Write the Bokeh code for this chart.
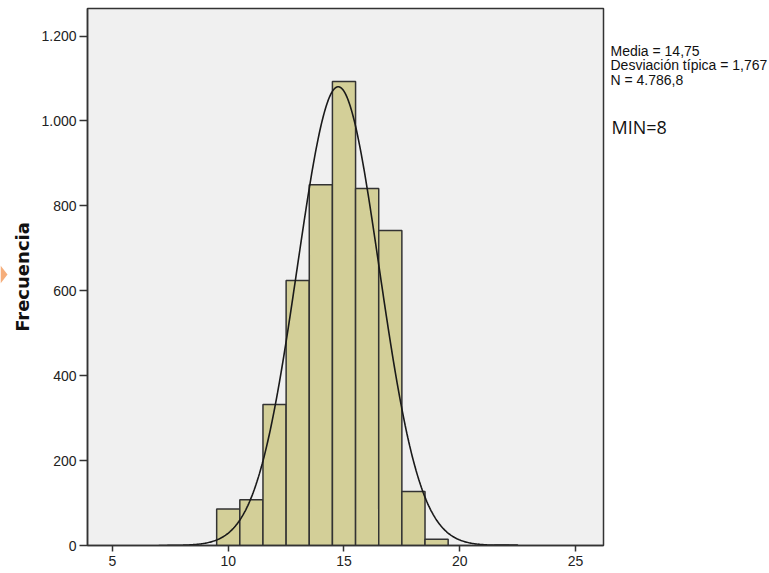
import numpy as np
from bokeh.plotting import figure
from bokeh.layouts import row
from bokeh.models import FixedTicker, ColumnDataSource, Range1d
from bokeh.core.properties import value
from bokeh.embed import file_html
from bokeh.resources import INLINE

# ---- data ----
bin_centers = [10, 11, 12, 13, 14, 15, 16, 17, 18, 19, 22]
frequencies = [86, 108, 332, 624, 850, 1093, 841, 742, 127, 15, 1]
bin_width = 1.0

mean = 14.75
std_dev = 1.767
n_total = 4786.8
curve_from, curve_to = 7.0, 22.5

x_ticks = [5, 10, 15, 20, 25]
y_ticks = [0, 200, 400, 600, 800, 1000, 1200]
y_tick_labels = ["0", "200", "400", "600", "800", "1.000", "1.200"]

stats_lines = ["Media = 14,75", "Desviación típica = 1,767", "N = 4.786,8"]
note_text = "MIN=8"
y_title = "Frecuencia"

H = 573
TOP, BOTTOM = 8, 28   # borders shared by the aligned frames

# ---- small left strip with the orange marker ----
p0 = figure(width=8, height=H, output_backend="svg", toolbar_location=None,
            x_range=Range1d(0, 8), y_range=Range1d(H - BOTTOM, TOP),
            x_axis_location=None, y_axis_location=None,
            min_border_left=0, min_border_right=0,
            min_border_top=TOP, min_border_bottom=BOTTOM)
p0.outline_line_color = None
p0.grid.visible = False
p0.background_fill_color = "white"
p0.patch(x=[0, 7, 0], y=[265, 274, 283], fill_color="#f5ad7a", line_color=None)

# ---- main histogram ----
p = figure(width=597, height=H, output_backend="svg", toolbar_location=None,
           x_range=(3.92, 26.21), y_range=(0, 1265),
           min_border_left=79, min_border_right=2, min_border_top=TOP,
           min_border_bottom=BOTTOM)
p.background_fill_color = "#f0f0f0"
p.border_fill_color = "white"
p.outline_line_color = "#333333"
p.outline_line_width = 1.5
p.xgrid.visible = False
p.ygrid.visible = False

src = ColumnDataSource(dict(x=bin_centers, top=frequencies))
p.vbar(x="x", top="top", bottom=0, width=bin_width, source=src,
       fill_color="#d3cf98", line_color="#333333", line_width=1.5)

xs = np.linspace(curve_from, curve_to, 400)
ys = n_total * bin_width / (std_dev * np.sqrt(2 * np.pi)) * np.exp(-0.5 * ((xs - mean) / std_dev) ** 2)
p.line(xs, ys, line_color="#1a1a1a", line_width=1.6)

for ax in (p.xaxis[0], p.yaxis[0]):
    ax.axis_line_color = "#333333"
    ax.axis_line_width = 1.5
    ax.major_tick_line_color = "#333333"
    ax.major_tick_line_width = 1.5
    ax.major_tick_in = 0
    ax.minor_tick_line_color = None
    ax.major_label_text_font = "Liberation Sans"
    ax.major_label_text_font_size = "14px"
    ax.major_label_text_color = "#222222"

p.xaxis.ticker = FixedTicker(ticks=x_ticks)
p.xaxis.major_tick_out = 6
p.xaxis.major_label_standoff = 4

p.yaxis.ticker = FixedTicker(ticks=y_ticks)
p.yaxis.major_label_overrides = {t: l for t, l in zip(y_ticks, y_tick_labels)}
p.yaxis.major_tick_out = 8
p.yaxis.major_label_standoff = 3
p.yaxis.axis_label = y_title
p.yaxis.axis_label_text_font = "DejaVu Sans"
p.yaxis.axis_label_text_font_style = "bold"
p.yaxis.axis_label_text_font_size = "18px"
p.yaxis.axis_label_text_color = "#111111"
p.yaxis.axis_label_standoff = 5

# ---- right strip with the statistics text ----
x0 = 605
p2 = figure(width=769 - x0, height=H, output_backend="svg", toolbar_location=None,
            x_range=Range1d(x0, 769), y_range=Range1d(H - BOTTOM, TOP),
            x_axis_location=None, y_axis_location=None,
            min_border_left=0, min_border_right=0,
            min_border_top=TOP, min_border_bottom=BOTTOM)
p2.outline_line_color = None
p2.grid.visible = False
p2.background_fill_color = "white"
p2.text(x=[610] * len(stats_lines), y=[50, 64.5, 79], text=stats_lines,
        text_font=value("Liberation Sans"), text_font_size=value("14px"),
        text_color="#111111", text_baseline="middle", text_align="left")
p2.text(x=[611], y=[126], text=[note_text],
        text_font=value("Open Sans"), text_font_size=value("18px"),
        text_color="#111111", text_baseline="middle", text_align="left")

layout = row(p0, p, p2, spacing=0)
open("out.html", "w").write(file_html(layout, INLINE))
